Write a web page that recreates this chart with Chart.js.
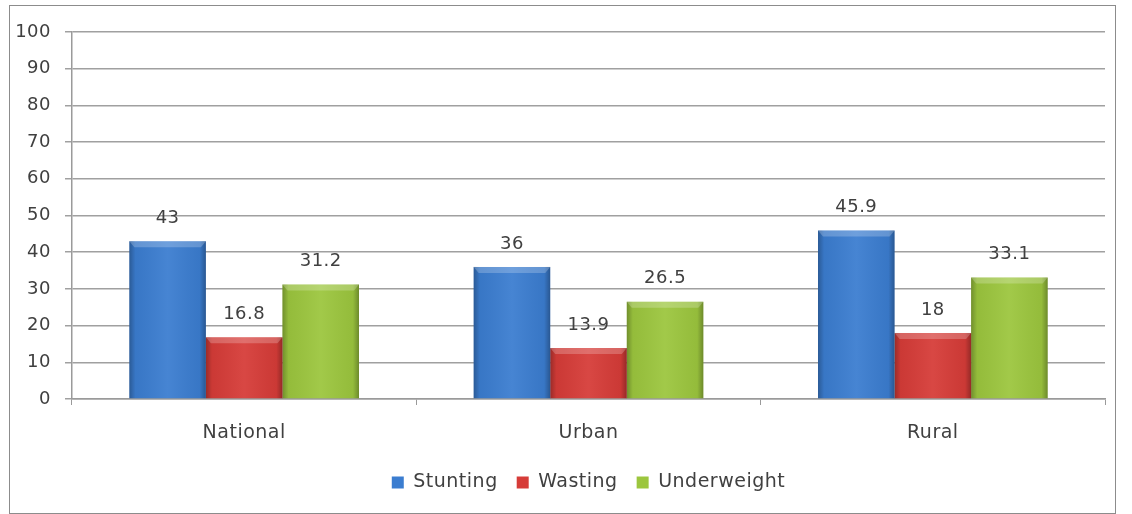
<!DOCTYPE html>
<html>
<head>
<meta charset="utf-8">
<script src="https://cdn.jsdelivr.net/npm/chart.js@4.4.1/dist/chart.umd.min.js"></script>
<style>
    body { margin: 0; background: #fff; }
    #wrap {
        position: absolute;
        left: 9px;
        top: 5px;
        width: 1105px;
        height: 507px;
        border: 1px solid #8c8c8c;
    }
</style>
</head>
<body>
<div id="wrap"><canvas id="chart" width="1105" height="507"></canvas></div>
<script>
// Chart data
const categories = ['National', 'Urban', 'Rural'];
const stunting = [43, 36, 45.9];
const wasting = [16.8, 13.9, 18];
const underweight = [31.2, 26.5, 33.1];
const seriesNames = ['Stunting', 'Wasting', 'Underweight'];
const yTicks = [0, 10, 20, 30, 40, 50, 60, 70, 80, 90, 100];

const textColor = '#404040';
const fontFamily = '"DejaVu Sans", Verdana, sans-serif';

// Excel style bevel on top of each bar
const bevelPlugin = {
    id: 'bevel',
    beforeUpdate(chart) {
        chart.ctx.letterSpacing = '0.5px';
    },
    beforeDraw(chart) {
        chart.ctx.letterSpacing = '0.5px';
    },
    afterDatasetsDraw(chart) {
        const ctx = chart.ctx;
        chart.data.datasets.forEach((ds, i) => {
            const meta = chart.getDatasetMeta(i);
            meta.data.forEach(bar => {
                const left = bar.x - bar.width / 2;
                const right = bar.x + bar.width / 2;
                const top = bar.y;
                const bottom = bar.base;
                ctx.save();
                const g = ctx.createLinearGradient(left, 0, right, 0);
                g.addColorStop(0, 'rgba(0,0,0,0.28)');
                g.addColorStop(0.08, 'rgba(0,0,0,0.05)');
                g.addColorStop(0.5, 'rgba(255,255,255,0.06)');
                g.addColorStop(0.92, 'rgba(0,0,0,0.05)');
                g.addColorStop(1, 'rgba(0,0,0,0.3)');
                ctx.fillStyle = g;
                ctx.fillRect(left, top, right - left, bottom - top);
                // top highlight
                ctx.fillStyle = 'rgba(255,255,255,0.22)';
                ctx.beginPath();
                ctx.moveTo(left, top);
                ctx.lineTo(right, top);
                ctx.lineTo(right - 5, top + 6);
                ctx.lineTo(left + 5, top + 6);
                ctx.closePath();
                ctx.fill();
                ctx.restore();
            });
        });
    }
};

// Value labels above bars
const valueLabels = {
    id: 'valueLabels',
    afterDatasetsDraw(chart) {
        const ctx = chart.ctx;
        ctx.save();
        ctx.font = '18px ' + fontFamily;
        ctx.fillStyle = textColor;
        ctx.textAlign = 'center';
        ctx.textBaseline = 'bottom';
        chart.data.datasets.forEach((ds, i) => {
            chart.getDatasetMeta(i).data.forEach((bar, j) => {
                ctx.fillText(String(ds.data[j]), bar.x, bar.y - 14);
            });
        });
        ctx.restore();
    }
};

new Chart(document.getElementById('chart'), {
    type: 'bar',
    data: {
        labels: categories,
        datasets: [
            { label: seriesNames[0], data: stunting, backgroundColor: '#3b7dd0' },
            { label: seriesNames[1], data: wasting, backgroundColor: '#d63c38' },
            { label: seriesNames[2], data: underweight, backgroundColor: '#9cc63e' }
        ]
    },
    options: {
        responsive: false,
        animation: false,
        layout: { padding: { top: 26, right: 10, left: 0, bottom: 11 } },
        datasets: {
            bar: { barPercentage: 1, categoryPercentage: 0.667 }
        },
        scales: {
            x: {
                grid: { drawOnChartArea: false, drawTicks: true, tickLength: 6, color: '#9a9a9a', offset: true },
                border: { color: '#9a9a9a', width: 1.5 },
                ticks: { color: textColor, font: { family: fontFamily, size: 19 }, padding: 17 },
                afterFit(scale) { scale.height = 55; }
            },
            y: {
                min: 0,
                max: 100,
                afterBuildTicks(scale) { scale.ticks = yTicks.map(v => ({ value: v })); },
                grid: { color: '#a0a0a0', lineWidth: 1.5, tickLength: 7 },
                border: { color: '#9a9a9a', width: 1.5 },
                ticks: { color: textColor, font: { family: fontFamily, size: 18 }, padding: 14 },
                afterFit(scale) { scale.width = 62; }
            }
        },
        plugins: {
            legend: {
                position: 'bottom',
                fullSize: false,
                labels: {
                    color: textColor,
                    font: { family: fontFamily, size: 19 },
                    boxWidth: 12,
                    boxHeight: 12,
                    padding: 19
                }
            },
            tooltip: { enabled: false }
        }
    },
    plugins: [bevelPlugin, valueLabels]
});
</script>
</body>
</html>
